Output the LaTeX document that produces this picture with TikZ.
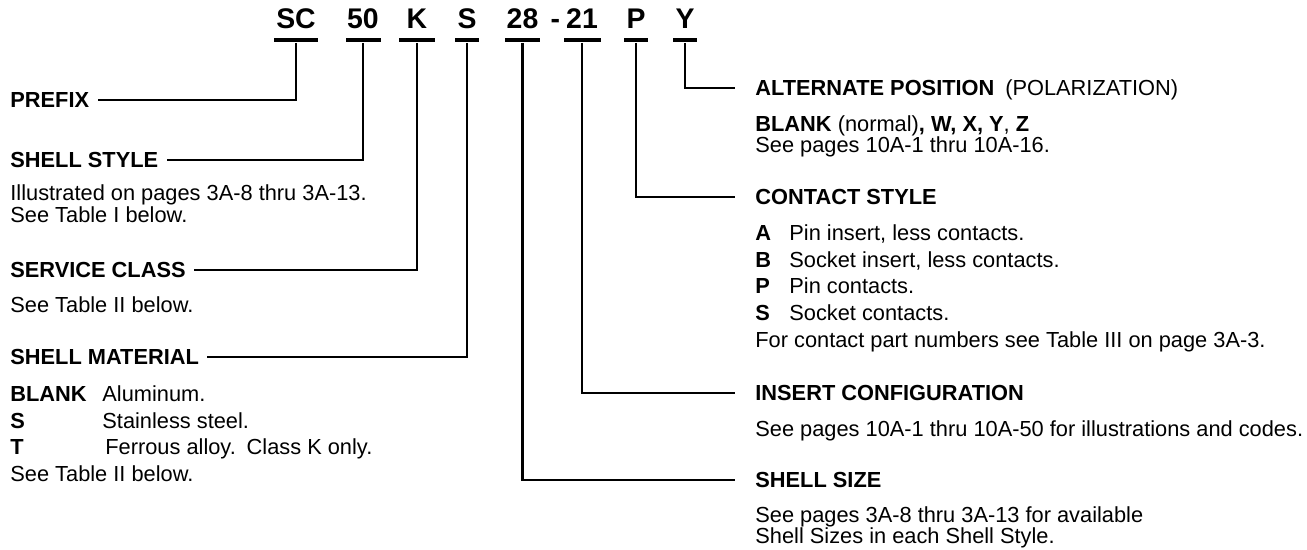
\documentclass[tikz,border=0pt]{standalone}
\usepackage{fontspec}
\setmainfont{Liberation Sans}
\usetikzlibrary{positioning,calc}
\tikzset{
  code/.style={font=\fontsize{14.2}{14}\selectfont\bfseries, inner sep=0pt},
  codebar/.style={fill=black, inner sep=0pt, minimum height=2.4pt, minimum width=#1},
  head/.style={font=\fontsize{10.9}{12}\selectfont\bfseries, anchor=base west,
               inner ysep=0pt, inner xsep=4pt, text height=7.8pt, text depth=0pt},
  rhead/.style={head, inner xsep=10pt},
  note/.style={font=\fontsize{10.9}{10.8}\selectfont, inner sep=0pt, align=left},
  list/.style={note, font=\fontsize{10.9}{13.4}\selectfont},
  lead/.style={line width=1.1pt},
}
\begin{document}
\begin{tikzpicture}[x=0.5pt, y=-0.5pt]
  \useasboundingbox (0,0) rectangle (1307,550);
  % part number bars
  \node[codebar=22pt]   (bsc) at (296,40) {};
  \node[codebar=17.5pt] (b50) at (363,40) {};
  \node[codebar=18pt]   (bk)  at (417,40) {};
  \node[codebar=12pt]   (bs)  at (467,40) {};
  \node[codebar=17.5pt] (b28) at (522.5,40) {};
  \node[codebar=18.5pt] (b21) at (582,40) {};
  \node[codebar=12pt]   (bp)  at (636,40) {};
  \node[codebar=12pt]   (by)  at (685,40) {};
  % part number
  \node[code, above=4pt of bsc] (tsc) {SC};
  \node[code, above=4pt of b50] (t50) {50};
  \node[code, above=4pt of bk]  (tk)  {K};
  \node[code, above=4pt of bs]  (ts)  {S};
  \node[code, above=4pt of b28] (t28) {28};
  \node[code, above=4pt of b21] (t21) {21};
  \node[code, above=4pt of bp]  (tp)  {P};
  \node[code, above=4pt of by]  (ty)  {Y};
  \node[code, anchor=base] (dash) at ($(t28.base)!0.55!(t21.base)$) {-};
  % left column
  \node[head] (prefix)   at (2,107.8) {PREFIX};
  \node[head] (style)    at (2,167.8) {SHELL STYLE};
  \node[note, below=8.3pt of style.south west, anchor=north west, xshift=4pt] (stylenote)
    {Illustrated on pages 3A-8 thru 3A-13.\\See Table I below.};
  \node[head] (class)    at (2,277.8) {SERVICE CLASS};
  \node[note, below=9pt of class.south west, anchor=north west, xshift=4pt] (classnote)
    {See Table II below.};
  \node[head] (material) at (2,364.8) {SHELL MATERIAL};
  \node[list, below=10pt of material.south west, anchor=north west, xshift=4pt] (matnote)
    {\makebox[46pt][l]{\textbf{BLANK}}Aluminum.\\
     \makebox[46pt][l]{\textbf{S}}Stainless steel.\\
     \makebox[47.5pt][l]{\textbf{T}}Ferrous alloy.\enspace Class K only.\\
     See Table II below.};
  % right column
  \node[rhead] (polar)   at (735,95.8)
    {ALTERNATE POSITION\enspace{\mdseries(POLARIZATION)}};
  \node[note, below=9.5pt of polar.south west, anchor=north west, xshift=10pt] (polarnote)
    {\textbf{BLANK} (normal)\textbf{, W, X, Y}, \textbf{Z}\\See pages 10A-1 thru 10A-16.};
  \node[rhead] (contact) at (735,204.8) {CONTACT STYLE};
  \node[list, below=9.5pt of contact.south west, anchor=north west, xshift=10pt] (contactnote)
    {\makebox[17pt][l]{\textbf{A}}Pin insert, less contacts.\\
     \makebox[17pt][l]{\textbf{B}}Socket insert, less contacts.\\
     \makebox[17pt][l]{\textbf{P}}Pin contacts.\\
     \makebox[17pt][l]{\textbf{S}}Socket contacts.\\
     For contact part numbers see Table III on page 3A-3.};
  \node[rhead] (insert)  at (735,400.8) {INSERT CONFIGURATION};
  \node[note, below=9.5pt of insert.south west, anchor=north west, xshift=10pt] (insertnote)
    {See pages 10A-1 thru 10A-50 for illustrations and codes.};
  \node[rhead] (size)    at (735,487.8) {SHELL SIZE};
  \node[note, below=9pt of size.south west, anchor=north west, xshift=10pt] (sizenote)
    {See pages 3A-8 thru 3A-13 for available\\Shell Sizes in each Shell Style.};
  % leaders
  \draw[lead] (bsc.south) |- (prefix.east);
  \draw[lead] (b50.south) |- (style.east);
  \draw[lead] (bk.south)  |- (class.east);
  \draw[lead] (bs.south)  |- (material.east);
  \draw[lead] (b28.south) |- (size.west);
  \draw[lead] (b21.south) |- (insert.west);
  \draw[lead] (bp.south)  |- (contact.west);
  \draw[lead] (by.south)  |- (polar.west);
\end{tikzpicture}
\end{document}
